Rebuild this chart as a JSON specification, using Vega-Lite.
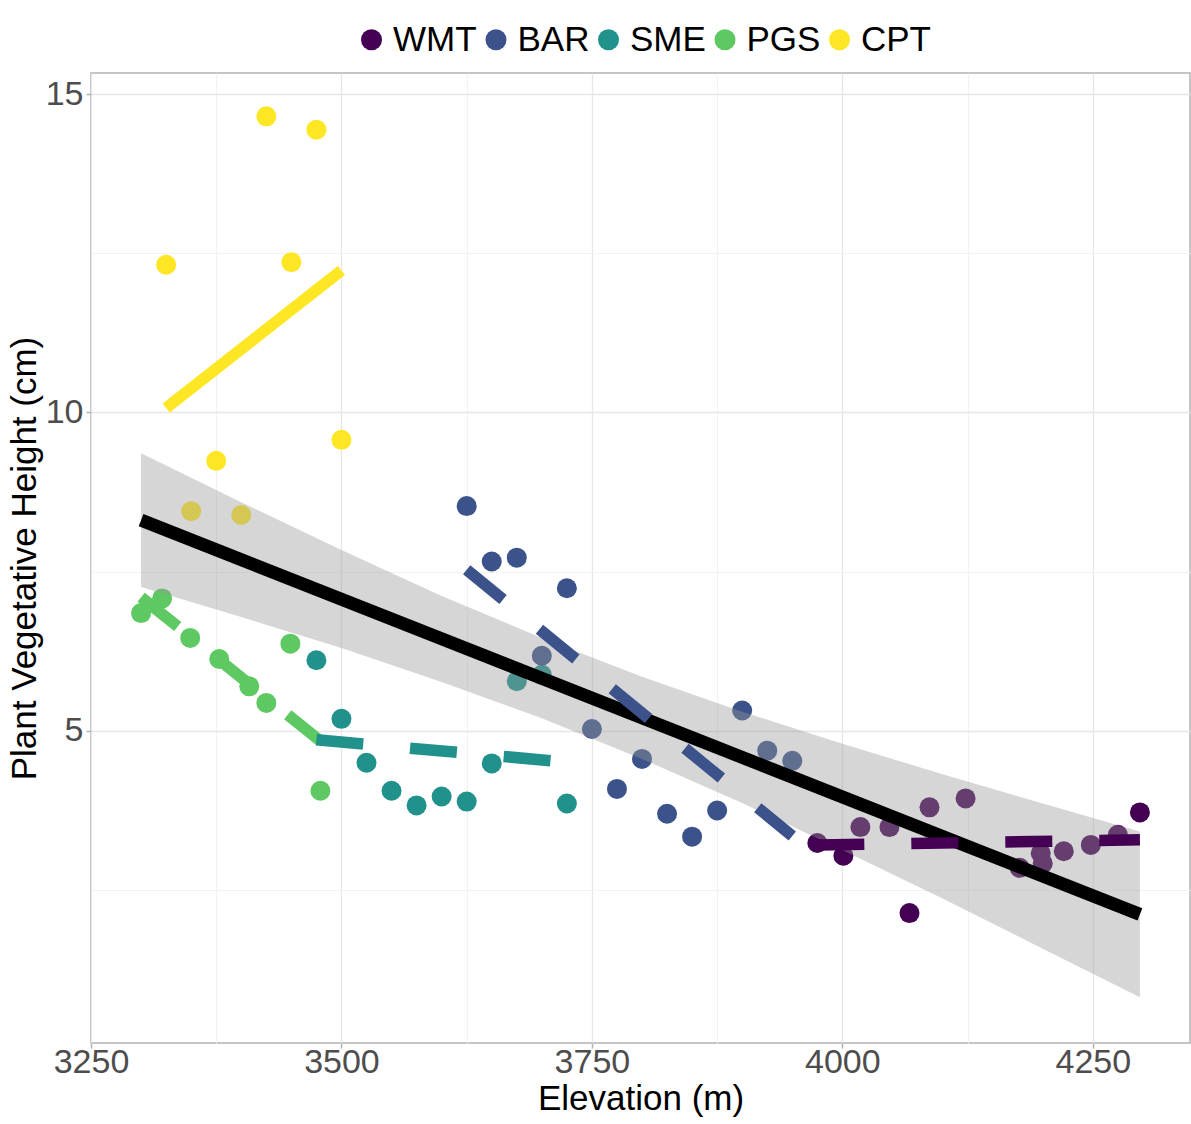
{
  "$schema": "https://vega.github.io/schema/vega-lite/v6.json",
  "width": 1099,
  "height": 970,
  "autosize": {"type": "none"},
  "padding": {"left": 91, "top": 73, "right": 1, "bottom": 81},
  "background": "white",
  "config": {
    "font": "Liberation Sans",
    "view": {"stroke": "#B3B3B3", "strokeWidth": 1.5}
  },
  "datasets": {
    "points": [
      {"site": "CPT", "elevation": 3325, "height": 12.32},
      {"site": "CPT", "elevation": 3350, "height": 8.45},
      {"site": "CPT", "elevation": 3375, "height": 9.24},
      {"site": "CPT", "elevation": 3400, "height": 8.39},
      {"site": "CPT", "elevation": 3425, "height": 14.65},
      {"site": "CPT", "elevation": 3450, "height": 12.36},
      {"site": "CPT", "elevation": 3475, "height": 14.44},
      {"site": "CPT", "elevation": 3500, "height": 9.57},
      {"site": "PGS", "elevation": 3300, "height": 6.85},
      {"site": "PGS", "elevation": 3321, "height": 7.08},
      {"site": "PGS", "elevation": 3349, "height": 6.46},
      {"site": "PGS", "elevation": 3378, "height": 6.13},
      {"site": "PGS", "elevation": 3408, "height": 5.70},
      {"site": "PGS", "elevation": 3425, "height": 5.44},
      {"site": "PGS", "elevation": 3449, "height": 6.37},
      {"site": "PGS", "elevation": 3479, "height": 4.06},
      {"site": "SME", "elevation": 3475, "height": 6.11},
      {"site": "SME", "elevation": 3500, "height": 5.19},
      {"site": "SME", "elevation": 3525, "height": 4.50},
      {"site": "SME", "elevation": 3550, "height": 4.06},
      {"site": "SME", "elevation": 3575, "height": 3.83},
      {"site": "SME", "elevation": 3600, "height": 3.97},
      {"site": "SME", "elevation": 3625, "height": 3.89},
      {"site": "SME", "elevation": 3650, "height": 4.49},
      {"site": "SME", "elevation": 3675, "height": 5.78},
      {"site": "SME", "elevation": 3700, "height": 5.88},
      {"site": "SME", "elevation": 3725, "height": 3.86},
      {"site": "BAR", "elevation": 3625, "height": 8.53},
      {"site": "BAR", "elevation": 3650, "height": 7.66},
      {"site": "BAR", "elevation": 3675, "height": 7.72},
      {"site": "BAR", "elevation": 3700, "height": 6.18},
      {"site": "BAR", "elevation": 3725, "height": 7.24},
      {"site": "BAR", "elevation": 3750, "height": 5.03},
      {"site": "BAR", "elevation": 3775, "height": 4.09},
      {"site": "BAR", "elevation": 3800, "height": 4.56},
      {"site": "BAR", "elevation": 3825, "height": 3.70},
      {"site": "BAR", "elevation": 3850, "height": 3.34},
      {"site": "BAR", "elevation": 3875, "height": 3.75},
      {"site": "BAR", "elevation": 3900, "height": 5.32},
      {"site": "BAR", "elevation": 3925, "height": 4.69},
      {"site": "BAR", "elevation": 3950, "height": 4.53},
      {"site": "WMT", "elevation": 3975, "height": 3.24},
      {"site": "WMT", "elevation": 4001, "height": 3.04},
      {"site": "WMT", "elevation": 4018, "height": 3.49},
      {"site": "WMT", "elevation": 4047, "height": 3.49},
      {"site": "WMT", "elevation": 4067, "height": 2.14},
      {"site": "WMT", "elevation": 4087, "height": 3.80},
      {"site": "WMT", "elevation": 4123, "height": 3.94},
      {"site": "WMT", "elevation": 4177, "height": 2.85},
      {"site": "WMT", "elevation": 4198, "height": 3.08},
      {"site": "WMT", "elevation": 4200, "height": 2.92},
      {"site": "WMT", "elevation": 4221, "height": 3.11},
      {"site": "WMT", "elevation": 4248, "height": 3.21},
      {"site": "WMT", "elevation": 4275, "height": 3.37},
      {"site": "WMT", "elevation": 4297, "height": 3.72}
    ],
    "band": [
      {"elevation": 3300, "lower": 7.26, "upper": 9.36},
      {"elevation": 3400, "lower": 6.79, "upper": 8.59},
      {"elevation": 3500, "lower": 6.30, "upper": 7.84},
      {"elevation": 3600, "lower": 5.77, "upper": 7.12},
      {"elevation": 3700, "lower": 5.20, "upper": 6.46},
      {"elevation": 3800, "lower": 4.56, "upper": 5.85},
      {"elevation": 3900, "lower": 3.87, "upper": 5.30},
      {"elevation": 4000, "lower": 3.13, "upper": 4.80},
      {"elevation": 4100, "lower": 2.37, "upper": 4.32},
      {"elevation": 4200, "lower": 1.58, "upper": 3.86},
      {"elevation": 4297, "lower": 0.82, "upper": 3.42}
    ],
    "overall": [
      {"elevation": 3300, "height": 8.31},
      {"elevation": 4297, "height": 2.12}
    ],
    "fits": [
      {"site": "CPT", "lt": "solid", "elevation": 3325, "height": 10.07},
      {"site": "CPT", "lt": "solid", "elevation": 3500, "height": 12.23},
      {"site": "PGS", "lt": "dashed", "elevation": 3300, "height": 7.10},
      {"site": "PGS", "lt": "dashed", "elevation": 3479, "height": 4.84},
      {"site": "SME", "lt": "dashed", "elevation": 3475, "height": 4.86},
      {"site": "SME", "lt": "dashed", "elevation": 3725, "height": 4.51},
      {"site": "BAR", "lt": "dashed", "elevation": 3625, "height": 7.53},
      {"site": "BAR", "lt": "dashed", "elevation": 3950, "height": 3.35},
      {"site": "WMT", "lt": "dashed", "elevation": 3975, "height": 3.21},
      {"site": "WMT", "lt": "dashed", "elevation": 4297, "height": 3.29}
    ]
  },
  "resolve": {"axis": {"x": "independent", "y": "independent"}},
  "layer": [
    {
      "data": {"name": "points"},
      "mark": {"type": "circle", "size": 400, "opacity": 1},
      "encoding": {
        "x": {
          "field": "elevation", "type": "quantitative",
          "scale": {"domain": [3250, 4347], "nice": false, "zero": false},
          "axis": {
            "orient": "bottom",
            "values": [3250, 3500, 3750, 4000, 4250],
            "format": "d",
            "title": "Elevation (m)",
            "grid": true, "gridColor": "#E6E6E6", "gridWidth": 1.3,
            "domain": false,
            "ticks": true, "tickColor": "#B3B3B3", "tickSize": 5, "tickWidth": 1.5,
            "labelFlush": false,
            "labelFontSize": 34, "labelColor": "#4D4D4D", "labelPadding": -3,
            "titleFontSize": 35, "titleFontWeight": "normal", "titleColor": "#000000", "titlePadding": 2
          }
        },
        "y": {
          "field": "height", "type": "quantitative",
          "scale": {"domain": [0.1, 15.33], "nice": false, "zero": false},
          "axis": {
            "orient": "left",
            "values": [5, 10, 15],
            "title": "Plant Vegetative Height (cm)",
            "grid": true, "gridColor": "#E6E6E6", "gridWidth": 1.3,
            "domain": false,
            "ticks": true, "tickColor": "#B3B3B3", "tickSize": 5, "tickWidth": 1.5,
            "labelFontSize": 34, "labelColor": "#4D4D4D", "labelPadding": 3,
            "titleFontSize": 35, "titleFontWeight": "normal", "titleColor": "#000000", "titlePadding": 3
          }
        },
        "color": {
          "field": "site", "type": "nominal",
          "scale": {
            "domain": ["WMT", "BAR", "SME", "PGS", "CPT"],
            "range": ["#440154", "#3B528B", "#21918C", "#5EC962", "#FDE725"]
          },
          "legend": {
            "orient": "none", "legendX": 263, "legendY": -51,
            "direction": "horizontal", "title": null,
            "labelFontSize": 35, "labelColor": "#000000",
            "symbolType": "circle", "symbolSize": 440, "symbolStrokeWidth": 0, "symbolOpacity": 1,
            "labelOffset": 4, "columnPadding": 1.5
          }
        }
      }
    },
    {
      "data": {"name": "band"},
      "mark": {"type": "area", "color": "#999999", "opacity": 0.4},
      "encoding": {
        "x": {
          "field": "elevation", "type": "quantitative",
          "axis": {
            "orient": "bottom", "values": [3375, 3625, 3875, 4125],
            "grid": true, "gridColor": "#F2F2F2", "gridWidth": 1,
            "labels": false, "ticks": false, "domain": false, "title": null
          }
        },
        "y": {
          "field": "lower", "type": "quantitative",
          "axis": {
            "orient": "left", "values": [2.5, 7.5, 12.5],
            "grid": true, "gridColor": "#F2F2F2", "gridWidth": 1,
            "labels": false, "ticks": false, "domain": false, "title": null
          }
        },
        "y2": {"field": "upper"}
      }
    },
    {
      "data": {"name": "overall"},
      "mark": {"type": "line", "color": "#000000", "strokeWidth": 13},
      "encoding": {
        "x": {"field": "elevation", "type": "quantitative", "axis": null},
        "y": {"field": "height", "type": "quantitative", "axis": null}
      }
    },
    {
      "data": {"name": "fits"},
      "mark": {"type": "line", "strokeWidth": 11.5, "strokeCap": "butt"},
      "encoding": {
        "x": {"field": "elevation", "type": "quantitative", "axis": null},
        "y": {"field": "height", "type": "quantitative", "axis": null},
        "color": {"field": "site", "type": "nominal", "legend": null},
        "strokeDash": {
          "field": "lt", "type": "nominal",
          "scale": {"domain": ["solid", "dashed"], "range": [[1, 0], [47, 47]]},
          "legend": null
        }
      }
    }
  ]
}
